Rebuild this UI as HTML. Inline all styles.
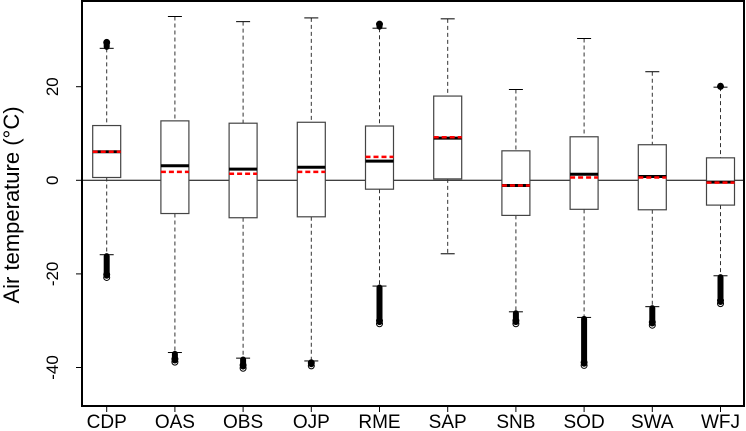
<!DOCTYPE html>
<html><head><meta charset="utf-8"><style>
html,body{margin:0;padding:0;background:#fff;}
svg{display:block;font-family:"Liberation Sans",Arial,sans-serif;}
</style></head><body>
<svg id="chart" width="746" height="431" viewBox="0 0 746 431" xmlns="http://www.w3.org/2000/svg">
<text x="0" y="0" transform="translate(19,205) rotate(-90)" text-anchor="middle" font-size="22">Air temperature (°C)</text>
</svg>
<script>
const categories=["CDP","OAS","OBS","OJP","RME","SAP","SNB","SOD","SWA","WFJ"];
const whiskerHigh=[28.2,35.0,33.9,34.7,32.5,34.5,19.4,30.3,23.2,19.9];
const q3=[11.7,12.7,12.2,12.4,11.6,18.0,6.3,9.3,7.6,4.8];
const medians=[6.1,3.1,2.4,2.8,4.1,9.0,-1.1,1.3,0.8,-0.4];
const means=[6.1,1.8,1.4,1.8,5.0,9.2,-1.1,0.6,0.6,-0.5];
const q1=[0.6,-7.1,-8.0,-7.8,-1.9,0.3,-7.5,-6.2,-6.3,-5.3];
const whiskerLow=[-15.9,-36.8,-38.0,-38.6,-22.6,-15.7,-28.1,-29.3,-27.0,-20.4];
const outHighMax=[30.1,null,null,null,34.0,null,null,null,null,20.7];
const outLowMin=[-21.4,-39.5,-40.8,-40.3,-31.3,null,-31.3,-40.2,-31.6,-27.0];
const yTicks=[20,0,-20,-40];

const NS="http://www.w3.org/2000/svg";
const svg=document.getElementById("chart");
const L=82,R=744,T=1,B=406;
const yS=v=>180.3-4.68*v;
const xS=i=>106.7+i*68.2;
function mk(tag,attrs){const e=document.createElementNS(NS,tag);for(const k in attrs)e.setAttribute(k,attrs[k]);svg.appendChild(e);return e;}

let z=mk("line",{x1:L,x2:R,y1:yS(0),y2:yS(0),stroke:"#000","stroke-width":1});



categories.forEach((c,i)=>{
  const x=xS(i),hw=14,cw=7;
  const g=document.createElementNS(NS,"g");svg.appendChild(g);
  
  
  const add=(tag,a)=>{const e=document.createElementNS(NS,tag);for(const k in a)e.setAttribute(k,a[k]);g.appendChild(e);return e;};
  add("line",{x1:x,x2:x,y1:yS(whiskerHigh[i]),y2:yS(q3[i]),stroke:"#333","stroke-dasharray":"4,3"});
  add("line",{x1:x,x2:x,y1:yS(q1[i]),y2:yS(whiskerLow[i]),stroke:"#333","stroke-dasharray":"4,3"});
  add("line",{x1:x-cw,x2:x+cw,y1:yS(whiskerHigh[i]),y2:yS(whiskerHigh[i]),stroke:"#000"});
  add("line",{x1:x-cw,x2:x+cw,y1:yS(whiskerLow[i]),y2:yS(whiskerLow[i]),stroke:"#000"});
  add("rect",{x:x-hw,y:yS(q3[i]),width:2*hw,height:yS(q1[i])-yS(q3[i]),fill:"#fff",stroke:"#444","stroke-width":1.2});
  add("line",{x1:x-hw,x2:x+hw,y1:yS(medians[i]),y2:yS(medians[i]),stroke:"#000","stroke-width":3});
  add("line",{x1:x-hw,x2:x+hw,y1:yS(means[i]),y2:yS(means[i]),stroke:"#f00","stroke-width":2.5,"stroke-dasharray":"5,3"});
  if(outLowMin[i]!==null){
    add("line",{x1:x,x2:x,y1:yS(whiskerLow[i]-0.3),y2:yS(outLowMin[i]+1.0),stroke:"#000","stroke-width":6,"stroke-linecap":"round"});
    add("circle",{cx:x,cy:yS(outLowMin[i])-3,r:3,fill:"none",stroke:"#000"});
    add("circle",{cx:x,cy:yS(outLowMin[i])-6,r:3,fill:"none",stroke:"#000"});
  }
  if(outHighMax[i]!==null){
    add("line",{x1:x,x2:x,y1:yS(whiskerHigh[i]+0.3),y2:yS(outHighMax[i]-0.6),stroke:"#000","stroke-width":6,"stroke-linecap":"round"});
    add("circle",{cx:x,cy:yS(outHighMax[i])+3,r:3,fill:"none",stroke:"#000"});
  }
  const t=mk("line",{x1:x,x2:x,y1:B,y2:B+6,stroke:"#000"});
  
  
  const lb=mk("text",{x:x,y:428,"text-anchor":"middle","font-size":19});
  lb.textContent=c;
  
  
});

yTicks.forEach(v=>{
  const y=yS(v);
  const t=mk("line",{x1:L-6,x2:L,y1:y,y2:y,stroke:"#000"});
  
  
  const lb=mk("text",{x:0,y:0,transform:`translate(58,${y}) rotate(-90)`,"text-anchor":"middle","font-size":17});
  lb.textContent=v;
  
  
});

const fr=mk("rect",{x:L,y:T,width:R-L,height:B-T,fill:"none",stroke:"#000","stroke-width":2});


</script>
</body></html>
